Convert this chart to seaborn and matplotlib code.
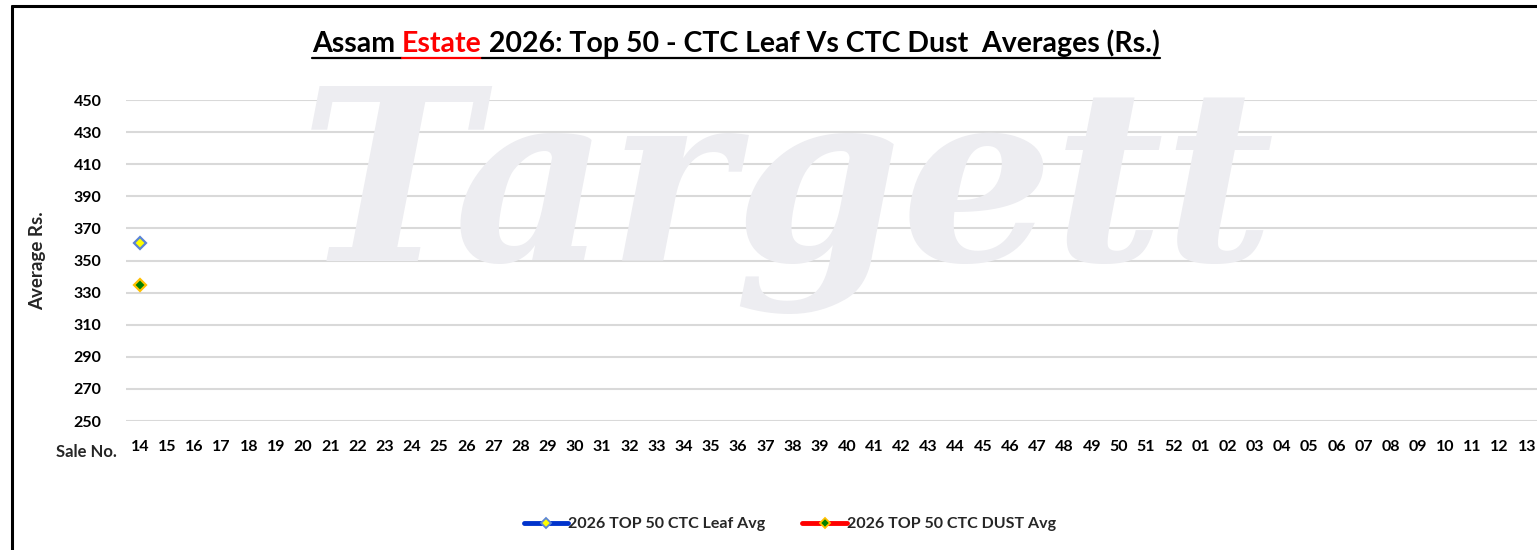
import numpy as np
import pandas as pd
import matplotlib
matplotlib.use("Agg")
import matplotlib.pyplot as plt
from matplotlib.lines import Line2D
import seaborn as sns

# ---- data ----
sale_nos = [str(i) for i in range(14, 53)] + [f"{i:02d}" for i in range(1, 14)]
leaf_avg = [361] + [np.nan] * (len(sale_nos) - 1)
dust_avg = [335] + [np.nan] * (len(sale_nos) - 1)
y_ticks = list(range(250, 451, 20))
leaf_label = "2026 TOP 50 CTC Leaf Avg"
dust_label = "2026 TOP 50 CTC DUST Avg"
title_parts = [("Assam ", "black"), ("Estate", "#FF0000"),
               (" 2026: Top 50 - CTC Leaf Vs CTC Dust  Averages (Rs.)", "black")]

sns.set_theme(style="white")
plt.rcParams["font.family"] = ["Lato", "DejaVu Sans"]

df = pd.DataFrame({"pos": np.arange(len(sale_nos)), "sale": sale_nos,
                   "leaf": leaf_avg, "dust": dust_avg})

fig = plt.figure(figsize=(15.37, 5.5), dpi=100)
ax = fig.add_axes([0.0822, 0.2345, 0.920, 0.5836])
ax.set_facecolor("none")

# watermark
fig.text(0.512, 0.525, "Targett", fontsize=172, fontweight="bold", fontstyle="italic",
         family="DejaVu Serif", color="#EDEDF1", ha="center", va="baseline", zorder=0)

sns.lineplot(data=df, x="pos", y="leaf", ax=ax, color="#0033CC", linewidth=3.5,
             marker="D", markersize=6, markerfacecolor="#FFFF00",
             markeredgecolor="#5B85D6", markeredgewidth=1.6, zorder=5)
sns.lineplot(data=df, x="pos", y="dust", ax=ax, color="#FF0000", linewidth=3.5,
             marker="D", markersize=6, markerfacecolor="#008000",
             markeredgecolor="#FFC000", markeredgewidth=1.6, zorder=5)

ax.set_xlim(-0.5, len(sale_nos) - 0.5)
ax.set_ylim(250, 450)
ax.set_yticks(y_ticks)
ax.set_xticks(df["pos"])
ax.set_xticklabels(sale_nos)
ax.grid(axis="y", color="#D9D9D9", linewidth=1.5)
ax.grid(axis="x", visible=False)
for s in ax.spines.values():
    s.set_visible(False)
ax.tick_params(axis="both", length=0, labelsize=11.5, colors="black")
ax.tick_params(axis="y", pad=18)
ax.tick_params(axis="x", pad=14)
for t in ax.get_xticklabels() + ax.get_yticklabels():
    t.set_fontweight("bold")
ax.set_xlabel("")
ax.set_ylabel("Average Rs.", fontsize=13.5, fontweight="bold", labelpad=20)

fig.text(0.0365, 0.178, "Sale No.", fontsize=12, fontweight="bold", ha="left", va="center")

# legend
handles = [
    Line2D([0], [0], color="#0033CC", lw=3.5, marker="D", markersize=5,
           markerfacecolor="#FFFF00", markeredgecolor="#5B85D6", markeredgewidth=1.3),
    Line2D([0], [0], color="#FF0000", lw=3.5, marker="D", markersize=5,
           markerfacecolor="#008000", markeredgecolor="#FFC000", markeredgewidth=1.3),
]
leg = fig.legend(handles, [leaf_label, dust_label], loc="center", ncol=2,
                 bbox_to_anchor=(0.514, 0.047), frameon=False, handlelength=2.8,
                 handletextpad=0.0, columnspacing=2.3,
                 prop={"weight": "bold", "size": 11.5, "family": "Lato"})

# title with coloured word + underline
fig.canvas.draw()
renderer = fig.canvas.get_renderer()
x0 = 312 / 1537
y_title = (550 - 44) / 550
texts = []
prev = None
for txt, col in title_parts:
    if prev is None:
        t = fig.text(x0, y_title, txt, fontsize=20.5, fontweight="bold", color=col,
                     ha="left", va="center")
    else:
        t = ax.annotate(txt, xy=(1, 0), xycoords=prev, xytext=(0, 0),
                        textcoords="offset points", fontsize=20.5, fontweight="bold",
                        color=col, ha="left", va="bottom", annotation_clip=False)
    t.draw(renderer)
    texts.append(t)
    prev = t
fig.canvas.draw()
bbs = [t.get_window_extent(renderer) for t in texts]
inv = fig.transFigure.inverted()
uy = inv.transform((0, bbs[0].y0))[1] - 0.002
for bb, (txt, col) in zip(bbs, title_parts):
    xa = inv.transform((bb.x0, 0))[0]
    xb = inv.transform((bb.x1, 0))[0]
    fig.add_artist(Line2D([xa, xb], [uy, uy], color=col, lw=1.6, transform=fig.transFigure))

# outer border (left and top)
fig.add_artist(Line2D([11.5 / 1537, 11.5 / 1537], [0, 1 - 5.5 / 550], color="black", lw=2.2,
                      transform=fig.transFigure))
fig.add_artist(Line2D([11.5 / 1537, 1], [1 - 5.5 / 550, 1 - 5.5 / 550], color="black", lw=2.2,
                      transform=fig.transFigure))

fig.savefig("out.png", dpi=100)
